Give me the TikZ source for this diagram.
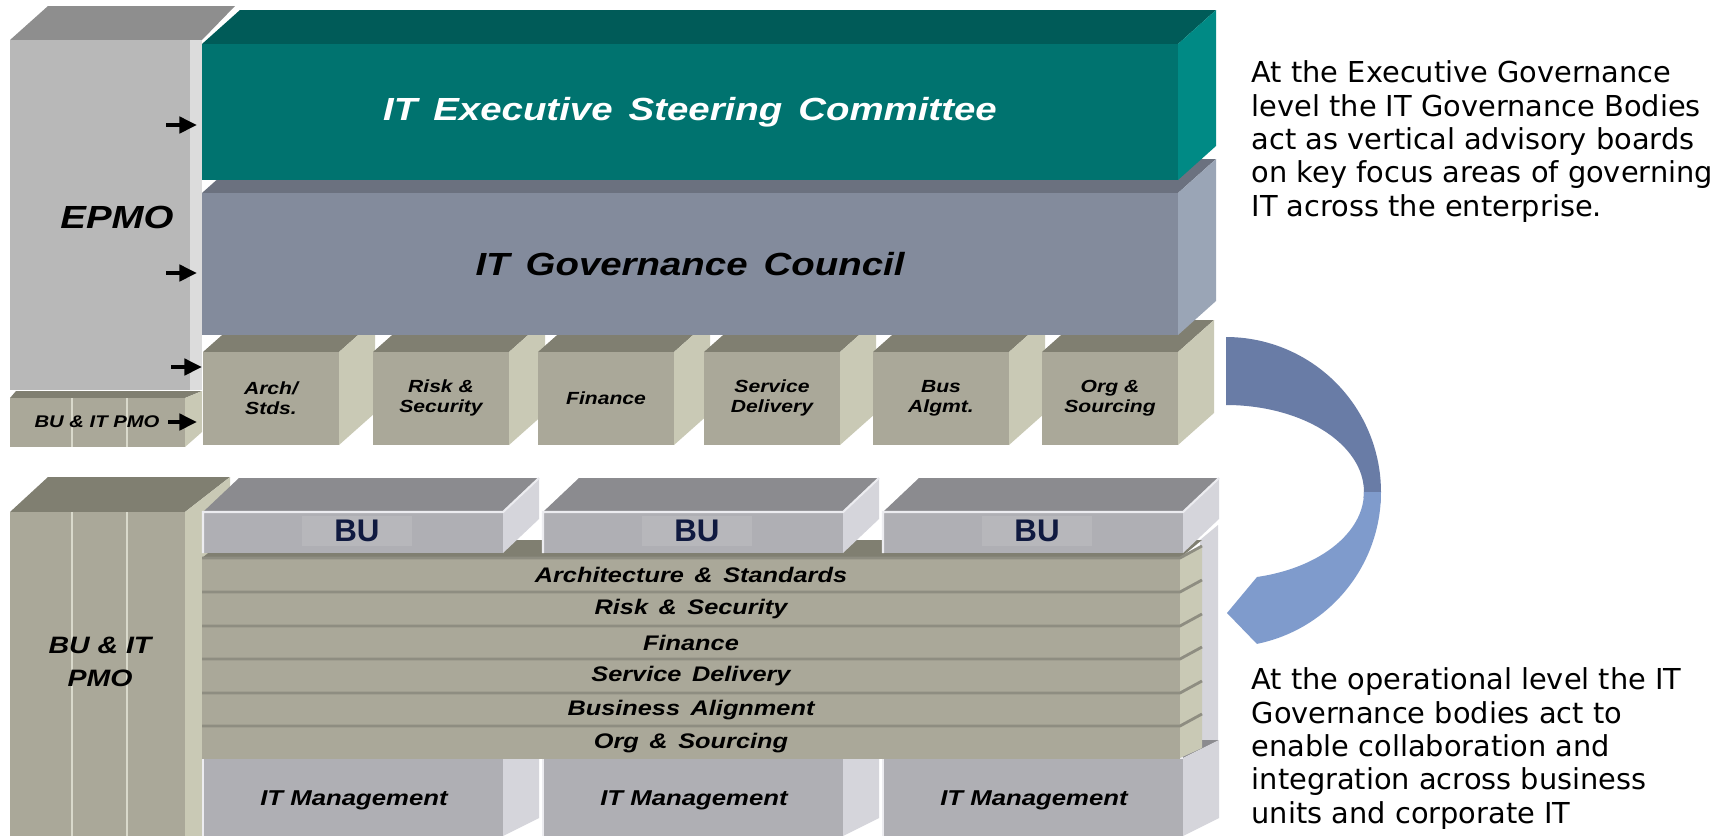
\documentclass[tikz,border=0pt]{standalone}
\usepackage{fontspec}
\setmainfont{Liberation Sans}
\newfontfamily\boxfont[FakeStretch=1.2]{Liberation Sans}
\newfontfamily\notefont{DejaVu Sans}
\usetikzlibrary{arrows.meta, calc}
\definecolor{tealfront}{HTML}{00736F}
\definecolor{tealtop}{HTML}{005B58}
\definecolor{tealside}{HTML}{008A85}
\definecolor{councilfront}{HTML}{838B9C}
\definecolor{counciltop}{HTML}{6B717F}
\definecolor{councilside}{HTML}{9AA5B6}
\definecolor{epmofront}{HTML}{B8B8B8}
\definecolor{epmotop}{HTML}{8E8E8E}
\definecolor{epmoside}{HTML}{DCDCDC}
\definecolor{khakifront}{HTML}{AAA899}
\definecolor{khakitop}{HTML}{807F71}
\definecolor{khakiside}{HTML}{C9C9B5}
\definecolor{khakiline}{HTML}{8E8D81}
\definecolor{bufront}{HTML}{AFAFB4}
\definecolor{butop}{HTML}{8B8B8F}
\definecolor{buside}{HTML}{D5D5DB}
\definecolor{buedge}{HTML}{ECECF0}
\definecolor{bulabelbg}{HTML}{B7B7BB}
\definecolor{bunavy}{HTML}{101A40}
\definecolor{loopdark}{HTML}{697CA6}
\definecolor{looplight}{HTML}{7F9BCC}

% wider word gaps, as in the slide titles
\newcommand{\widespaces}{\spaceskip=0.5em\relax}

% front face (#1,#2)-(#3,#4), depth (#5,#6), colours front/top/side
\newcommand{\govcube}[9]{%
  \fill[#8] (#1,#2) -- (#1+#5,#2-#6) -- (#3+#5,#2-#6) -- (#3,#2) -- cycle;
  \fill[#9] (#3,#2) -- (#3+#5,#2-#6) -- (#3+#5,#4-#6) -- (#3,#4) -- cycle;
  \fill[#7] (#1,#2) rectangle (#3,#4);
}

\tikzset{
  biglabel/.style={font=\boxfont\bfseries\itshape\fontsize{9.1}{11}\selectfont\widespaces},
  pmolabel/.style={font=\boxfont\bfseries\itshape\fontsize{6.75}{9.6}\selectfont, align=center},
  cubelabel/.style={font=\boxfont\bfseries\itshape\fontsize{5}{5.7}\selectfont, align=center},
  layerlabel/.style={font=\boxfont\bfseries\itshape\fontsize{6}{7}\selectfont\widespaces, inner sep=0pt},
  mgmtlabel/.style={font=\boxfont\bfseries\itshape\fontsize{6.1}{7}\selectfont},
  bulabel/.style={font=\bfseries\fontsize{8.9}{10}\selectfont, text=bunavy, fill=bulabelbg,
    minimum width=1.1cm, minimum height=0.3cm, inner sep=0pt},
  pmoarrow/.style={-{Triangle[length=5pt,width=4.6pt]}, line width=1.1pt, black},
  notetext/.style={font=\notefont\fontsize{8.2}{9.5}\selectfont, align=left, inner sep=0pt, anchor=north west}
}

\begin{document}
\begin{tikzpicture}[x=0.01cm, y=-0.01cm]
    \fill[white] (0,0) rectangle (1732,836);
    \useasboundingbox (0,0) rectangle (1732,836);

    % EPMO column
    \fill[epmotop] (10,40) -- (48,6) -- (235,6) -- (202,40) -- cycle;
    \fill[epmofront] (10,40) rectangle (190,390);
    \fill[epmoside] (190,40) rectangle (202,390);
    \node[biglabel] (epmo) at (117,217) {EPMO};

    % small BU & IT PMO block
    \fill[khakitop] (10,398) -- (16,391) -- (202,391) -- (185,398) -- cycle;
    \fill[khakiside] (185,398) -- (202,391) -- (202,432) -- (185,447) -- cycle;
    \fill[khakifront] (10,398) rectangle (185,447);
    \draw[khakiside!70!white, line width=0.5pt] (72,398) -- (72,447) (127,398) -- (127,447);
    \node[cubelabel, font=\boxfont\bfseries\itshape\fontsize{4.8}{5.7}\selectfont] (pmosmall) at (97,422) {BU \& IT PMO};

    % governance body cubes
    \foreach \x/\txt [count=\i] in {203/{Arch/\\Stds.}, 373/{Risk \&\\Security}, 538/{Finance},
        704/{Service\\Delivery}, 873/{Bus\\Algmt.}, 1042/{Org \&\\Sourcing}} {
        \govcube{\x}{352}{\x+136}{445}{36}{32}{khakifront}{khakitop}{khakiside}
        \node[cubelabel] (body\i) at (\x+68,398) {\txt};
    }

    % IT Governance Council
    \govcube{202}{193}{1178}{335}{38}{34}{councilfront}{counciltop}{councilside}
    \node[biglabel] (council) at (690,264) {IT Governance Council};

    % IT Executive Steering Committee
    \govcube{202}{44}{1178}{180}{38}{34}{tealfront}{tealtop}{tealside}
    \node[biglabel, text=white] (steering) at (690,112) {IT Executive Steering Committee};

    % arrows out of the PMO
    \foreach \y/\xs/\xe [count=\i] in {125/166/197, 273/166/197, 367/171/202, 422/168/197} {
        \coordinate (arrs\i) at (\xs,\y);
        \coordinate (arre\i) at (\xe,\y);
        \draw[pmoarrow] (arrs\i) -- (arre\i);
    }

    % BU & IT PMO column
    \fill[khakitop] (10,512) -- (48,477) -- (230,477) -- (185,512) -- cycle;
    \fill[khakiside] (185,512) -- (230,477) -- (230,836) -- (185,836) -- cycle;
    \fill[khakifront] (10,512) rectangle (185,836);
    \draw[khakiside!70!white, line width=0.5pt] (72,512) -- (72,836) (127,512) -- (127,836);
    \node[pmolabel] (pmo) at (100,662) {BU \& IT\\PMO};

    % frame post at the right
    \fill[buside] (1200,540) -- (1218,525) -- (1218,743) -- (1200,757) -- cycle;

    % IT Management blocks
    \foreach \x [count=\i] in {203,543,883} {
        \govcube{\x}{758}{\x+300}{836}{36}{18}{bufront}{butop}{buside}
        \draw[buedge, line width=0.6pt] (\x,836) -- (\x,758) -- (\x+300,758);
        \node[mgmtlabel] (itm\i) at (\x+151,800) {IT Management};
    }

    % layer stack
    \fill[khakitop] (202,558) -- (224,540) -- (1202,540) -- (1180,558) -- cycle;
    \fill[khakiside] (1180,558) -- (1202,545) -- (1202,748) -- (1180,758) -- cycle;
    \foreach \y/\txt [count=\i] in {558/{Architecture \& Standards}, 592/{Risk \& Security}, 626/{Finance},
        659/{Service Delivery}, 693/{Business Alignment}, 726/{Org \& Sourcing}} {
        \fill[khakifront] (202,\y) rectangle (1180,\y+33);
        \draw[khakiline, line width=0.8pt] (202,\y) -- (1180,\y) -- (1202,\y-12);
        \node[layerlabel] (layer\i) at (691,\y+17) {\txt};
    }

    % BU blocks
    \foreach \x [count=\i] in {203,543,883} {
        \govcube{\x}{512}{\x+300}{553}{36}{34}{bufront}{butop}{buside}
        \draw[buedge, line width=0.6pt] (\x,553) -- (\x,512) -- (\x+300,512) -- (\x+336,478);
        \node[bulabel] (bu\i) at (\x+154,531) {BU};
    }

    % loop arrow
    \coordinate (loopc) at (1226,492);
    \fill[loopdark] (1226,337) arc[start angle=-90, end angle=4, radius=155]
        -- ($(loopc)+(4:138 and 87)$) arc[start angle=4, end angle=-90, x radius=138, y radius=87] -- cycle;
    \fill[looplight] (1381,492) arc[start angle=0, end angle=78.5, radius=155]
        -- (1227,613) -- (1257,577) arc[start angle=77, end angle=0, x radius=138, y radius=87] -- cycle;

    % notes
    \node[notetext] (execnote) at (1251,60) {At the Executive Governance\\level the IT Governance Bodies\\act as vertical advisory boards\\on key focus areas of governing\\IT across the enterprise.};
    \node[notetext] (opnote) at (1251,667) {At the operational level the IT\\Governance bodies act to\\enable collaboration and\\integration across business\\units and corporate IT};
\end{tikzpicture}
\end{document}
